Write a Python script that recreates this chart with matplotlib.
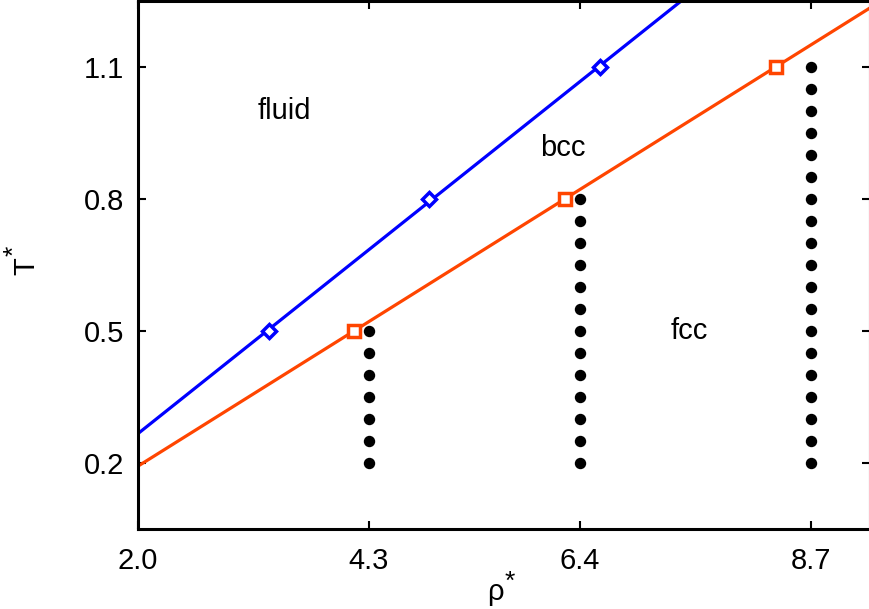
import numpy as np
import matplotlib
matplotlib.use("Agg")
import matplotlib.pyplot as plt

plt.rcParams["font.family"] = ["Liberation Sans", "DejaVu Sans"]

# phase boundaries (rho*, T*)
T_pts = [0.5, 0.8, 1.1]
rho_fluid_bcc = [3.3, 4.9, 6.6]
rho_bcc_fcc = [4.15, 6.25, 8.35]

# simulated state points (columns of dots)
dot_rho = [4.3, 6.4, 8.7]
dot_Tmax = [0.5, 0.8, 1.1]
dot_Tmin = 0.2
dot_step = 0.05

xticks = [2.0, 4.3, 6.4, 8.7]
yticks = [0.2, 0.5, 0.8, 1.1]

blue = "#0000ff"
orange = "#ff4500"
FS = 21
W, H = 869, 609

fig = plt.figure(figsize=(W / 100, H / 100), dpi=100)
ax = fig.add_axes([138 / W, 80 / H, 732 / W, 528 / H])

xmin, xmax = 2.0, 9.29
ymin, ymax = 0.05, 1.25

xs = np.array([xmin, xmax])
for rho, col, mk in [(rho_fluid_bcc, blue, "D"), (rho_bcc_fcc, orange, "s")]:
    k, b = np.polyfit(rho, T_pts, 1)
    ax.plot(xs, k * xs + b, color=col, lw=2.3, zorder=2)
    ax.plot(rho, T_pts, ls="none", marker=mk, ms=8.5 if mk == "s" else 7.5,
            mfc="white", mec=col, mew=2.5, zorder=3)

for r, tmax in zip(dot_rho, dot_Tmax):
    n = int(round((tmax - dot_Tmin) / dot_step)) + 1
    ts = [dot_Tmin + i * dot_step for i in range(n)]
    ax.plot([r] * n, ts, ls="none", marker="o", ms=7.2, color="black", zorder=3)

ax.text(3.46, 1.0, "fluid", fontsize=FS, ha="center", va="center")
ax.text(6.23, 0.916, "bcc", fontsize=FS, ha="center", va="center")
ax.text(7.49, 0.5, "fcc", fontsize=FS, ha="center", va="center")

ax.set_xlim(xmin, xmax)
ax.set_ylim(ymin, ymax)
ax.set_xticks(xticks)
ax.set_xticklabels(["%.1f" % v for v in xticks])
ax.set_yticks(yticks)
ax.set_yticklabels(["%.1f" % v for v in yticks])
ax.tick_params(direction="in", length=6, width=1.5, labelsize=FS,
               top=True, right=True)
ax.tick_params(axis="x", pad=13)
ax.tick_params(axis="y", pad=10)
for s in ax.spines.values():
    s.set_linewidth(2.2)

# axis titles with full-size raised asterisk, as in the gnuplot original
fig.text(495 / W, 1 - 592 / H, "ρ", fontsize=FS, ha="center", va="center")
fig.text(510 / W, 1 - 582 / H, "*", fontsize=FS - 2, ha="center", va="center")
fig.text(26 / W, 1 - 266 / H, "T", fontsize=FS, ha="center", va="center",
         rotation=90)
fig.text(14 / W, 1 - 251 / H, "*", fontsize=FS - 2, ha="center", va="center",
         rotation=90)

fig.savefig("out.png", dpi=100)
